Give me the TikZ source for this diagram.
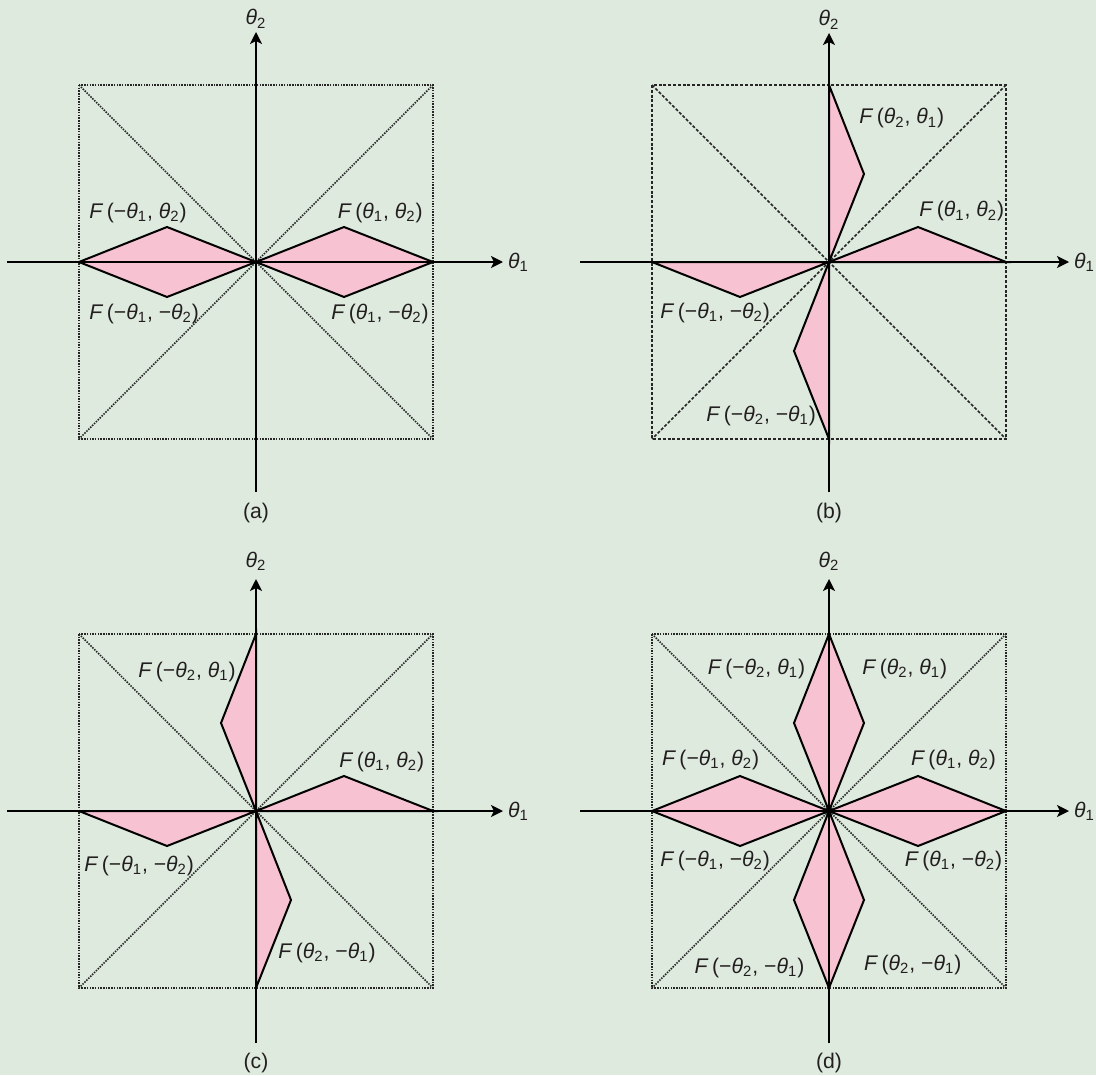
\documentclass[tikz,border=0pt]{standalone}
\usepackage{fontspec}
\setmainfont{Liberation Sans}
\usetikzlibrary{arrows.meta}
\definecolor{bggreen}{RGB}{222,234,222}
\definecolor{shapepink}{RGB}{247,194,210}
\definecolor{inkgray}{RGB}{35,31,32}
\newcommand{\thx}[1]{\textit{θ}\textsubscript{#1}}
\newcommand{\Flab}[2]{\textit{F}\,(#1, #2)}
\newcommand{\Sz}{177}
% frame, diagonals and named corner/tip coordinates
\newcommand{\guides}[1]{%
  \coordinate (O) at (0,0);
  \coordinate (NW) at (-\Sz,-\Sz); \coordinate (NE) at (\Sz,-\Sz);
  \coordinate (SW) at (-\Sz,\Sz);  \coordinate (SE) at (\Sz,\Sz);
  \coordinate (E) at (\Sz,0); \coordinate (W) at (-\Sz,0);
  \coordinate (N) at (0,-\Sz); \coordinate (S) at (0,\Sz);
  \draw[#1] (NW) rectangle (SE);
  \draw[#1] (NW) -- (SE);
  \draw[#1] (NE) -- (SW);
}
% axes, axis labels, caption
\newcommand{\axes}[7]{%
  \coordinate (XL) at (-#1,0); \coordinate (XR) at (#2,0);
  \coordinate (YT) at (0,-#3); \coordinate (YB) at (0,#4);
  \draw[axisline] (XL) -- (XR);
  \draw[axisline] (YB) -- (YT);
  \node[anchor=base west, inner sep=0pt] (t1) at ([xshift=2.3pt,yshift=-3.3pt]XR) {\thx1};
  \node[anchor=base, inner sep=0pt] (t2) at ([yshift=#6]YT) {\thx2};
  \node[inner sep=0pt] (cap) at (0,#5) {#7};
}
\begin{document}
\begin{tikzpicture}[x=0.5pt,y=-0.5pt,
  font=\fontsize{10.6}{12.5}\selectfont, text=inkgray,
  axisline/.style={line width=1pt, draw=black, -{Stealth[length=6pt,width=6pt,inset=1.5pt]}},
  dotguide/.style={line width=0.85pt, draw=black!85, dash pattern=on 0.75pt off 0.6pt},
  dashguide/.style={line width=0.85pt, draw=black!85, dash pattern=on 1.5pt off 0.9pt},
  petal/.style={fill=shapepink, draw=black, line width=1pt, line join=miter},
  lab/.style={anchor=base west, inner sep=0pt}]
\path[use as bounding box, fill=bggreen] (0,0) rectangle (1096,1075);

% ---------------- (a)
\begin{scope}[shift={(256,262)}, name prefix=a-]
  \guides{dotguide}
  \filldraw[petal] (O) -- (88,-35) -- (E) -- (88,35) -- cycle;
  \filldraw[petal] (O) -- (-89,-35) -- (W) -- (-89,35) -- cycle;
  \axes{249}{247}{230}{230}{251}{3.5pt}{(a)}
  \node[lab] (Lpp) at (81.5,-43.3) {\Flab{\thx1}{\thx2}};
  \node[lab] (Lpm) at (75,57.6) {\Flab{\thx1}{−\thx2}};
  \node[lab] (Lmp) at (-167,-43.3) {\Flab{−\thx1}{\thx2}};
  \node[lab] (Lmm) at (-167,57) {\Flab{−\thx1}{−\thx2}};
\end{scope}

% ---------------- (b)
\begin{scope}[shift={(829,262)}, name prefix=b-]
  \guides{dashguide}
  \filldraw[petal] (O) -- (89,-35) -- (E) -- cycle;
  \filldraw[petal] (O) -- (N) -- (35,-88) -- cycle;
  \filldraw[petal] (O) -- (W) -- (-89,35) -- cycle;
  \filldraw[petal] (O) -- (S) -- (-35,89) -- cycle;
  \axes{249}{240}{229}{230}{251}{3.5pt}{(b)}
  \node[lab] (Lqp) at (30,-138) {\Flab{\thx2}{\thx1}};
  \node[lab] (Lpp) at (90,-45) {\Flab{\thx1}{\thx2}};
  \node[lab] (Lmm) at (-169,56.5) {\Flab{−\thx1}{−\thx2}};
  \node[lab] (Lqm) at (-123,159) {\Flab{−\thx2}{−\thx1}};
\end{scope}

% ---------------- (c)
\begin{scope}[shift={(256,811)}, name prefix=c-]
  \guides{dotguide}
  \filldraw[petal] (O) -- (88,-35) -- (E) -- cycle;
  \filldraw[petal] (O) -- (N) -- (-35,-88) -- cycle;
  \filldraw[petal] (O) -- (W) -- (-89,35) -- cycle;
  \filldraw[petal] (O) -- (S) -- (35,89) -- cycle;
  \axes{249}{247}{232}{232}{252}{6pt}{(c)}
  \node[lab] (Lmq) at (-118,-134) {\Flab{−\thx2}{\thx1}};
  \node[lab] (Lpp) at (83,-43.7) {\Flab{\thx1}{\thx2}};
  \node[lab] (Lmm) at (-172,60) {\Flab{−\thx1}{−\thx2}};
  \node[lab] (Lpq) at (22,147.4) {\Flab{\thx2}{−\thx1}};
\end{scope}

% ---------------- (d)
\begin{scope}[shift={(829,811)}, name prefix=d-]
  \guides{dotguide}
  \filldraw[petal] (O) -- (89,-35) -- (E) -- (89,35) -- cycle;
  \filldraw[petal] (O) -- (-89,-35) -- (W) -- (-89,35) -- cycle;
  \filldraw[petal] (O) -- (35,-88) -- (N) -- (-35,-88) -- cycle;
  \filldraw[petal] (O) -- (35,89) -- (S) -- (-35,89) -- cycle;
  \axes{249}{240}{232}{232}{252}{6pt}{(d)}
  \node[lab] (Lmq) at (-121.6,-136.7) {\Flab{−\thx2}{\thx1}};
  \node[lab] (Lqp) at (33,-137) {\Flab{\thx2}{\thx1}};
  \node[lab] (Lmp) at (-167.4,-45.5) {\Flab{−\thx1}{\thx2}};
  \node[lab] (Lpp) at (81.6,-45.5) {\Flab{\thx1}{\thx2}};
  \node[lab] (Lmm) at (-169,55.4) {\Flab{−\thx1}{−\thx2}};
  \node[lab] (Lpm) at (75.4,55.4) {\Flab{\thx1}{−\thx2}};
  \node[lab] (Lqm) at (-134.7,162) {\Flab{−\thx2}{−\thx1}};
  \node[lab] (Lpq) at (34.7,159.4) {\Flab{\thx2}{−\thx1}};
\end{scope}
\end{tikzpicture}
\end{document}
